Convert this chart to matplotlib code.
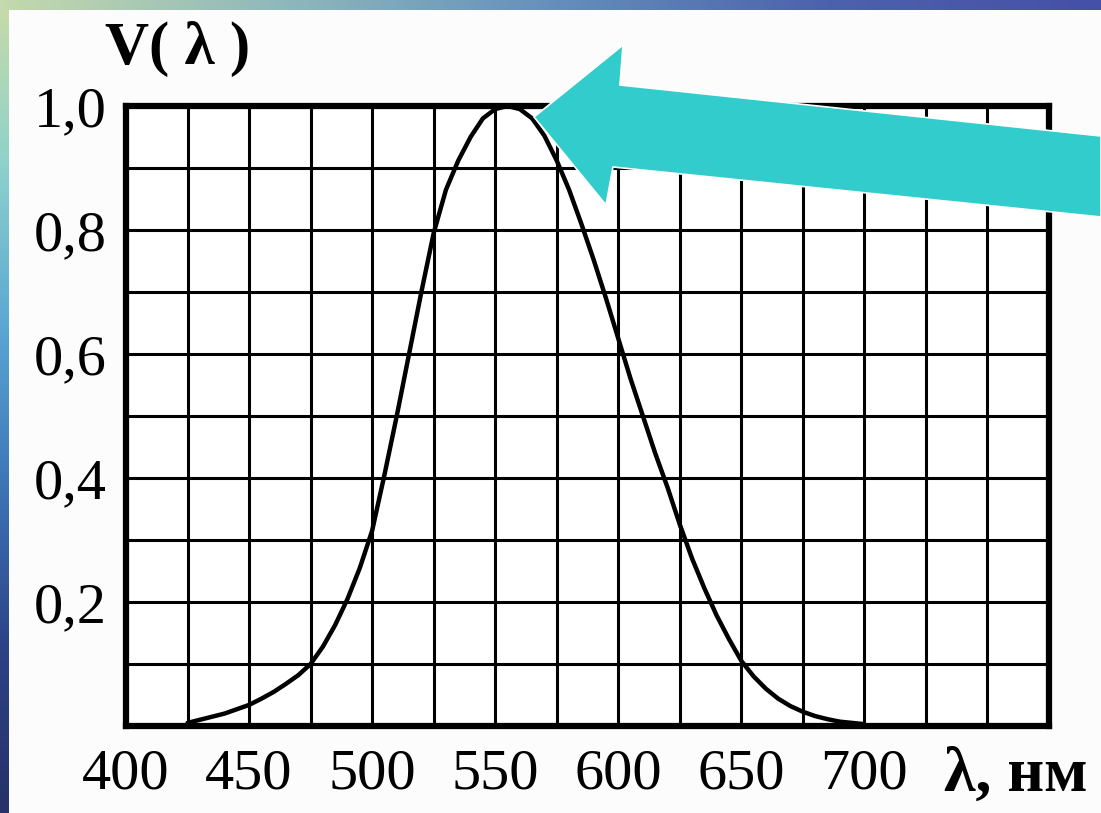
import numpy as np
from matplotlib import pyplot as plt
from matplotlib.colors import LinearSegmentedColormap
from matplotlib.patches import Polygon

# 衬线字体，带希腊字母和西里尔字母
plt.rcParams['font.family'] = ['Liberation Serif', 'DejaVu Serif']

# 波长 (нм) 和 V(λ) —— 从图上读出来的值
wavelength = [425, 430, 435, 440, 445, 450, 455, 460, 465, 470,
              475, 480, 485, 490, 495, 500, 505, 510, 515, 520,
              525, 530, 535, 540, 545, 550, 555, 560, 565, 570,
              575, 580, 585, 590, 595, 600, 605, 610, 615, 620,
              625, 630, 635, 640, 645, 650, 655, 660, 665, 670,
              675, 680, 685, 690, 695, 700]
v_lambda = [0.005, 0.010, 0.015, 0.020, 0.027, 0.034, 0.044, 0.055, 0.068, 0.082,
            0.100, 0.128, 0.163, 0.205, 0.255, 0.315, 0.405, 0.500, 0.600, 0.700,
            0.795, 0.865, 0.912, 0.950, 0.980, 0.995, 1.000, 0.995, 0.980, 0.952,
            0.912, 0.865, 0.810, 0.752, 0.690, 0.625, 0.560, 0.500, 0.440, 0.385,
            0.325, 0.270, 0.222, 0.178, 0.140, 0.105, 0.080, 0.060, 0.044, 0.032,
            0.023, 0.016, 0.011, 0.007, 0.005, 0.003]

# 刻度
x_ticks = [400, 450, 500, 550, 600, 650, 700]
x_ticklabels = ['400', '450', '500', '550', '600', '650', '700']
y_ticks = [0.2, 0.4, 0.6, 0.8, 1.0]
y_ticklabels = ['0,2', '0,4', '0,6', '0,8', '1,0']

W, H = 1101, 813
fig = plt.figure(figsize=(W / 100, H / 100), dpi=100)
fig.patch.set_facecolor('#fcfcfc')

# 左边和上边的渐变条
left_cmap = LinearSegmentedColormap.from_list(
    'left', ['#c9dba6', '#8fd2cc', '#5aa8d4', '#3d74b6', '#2c4286', '#263268'])
top_cmap = LinearSegmentedColormap.from_list(
    'top', ['#c4d9ac', '#90b9bc', '#6590bb', '#4d62ad', '#4650a6'])
ax_l = fig.add_axes([0, 0, 9 / W, 1])
ax_l.imshow(np.linspace(0, 1, 256).reshape(-1, 1), aspect='auto', cmap=left_cmap)
ax_l.axis('off')
ax_t = fig.add_axes([0, 1 - 10 / H, 1, 10 / H])
ax_t.imshow(np.linspace(0, 1, 256).reshape(1, -1), aspect='auto', cmap=top_cmap)
ax_t.axis('off')

# 主坐标系
ax = fig.add_axes([126 / W, 1 - 726 / H, 923 / W, 620 / H])
ax.set_facecolor('white')
ax.plot(wavelength, v_lambda, color='black', linewidth=3.2,
        solid_capstyle='round', solid_joinstyle='round', zorder=3)

ax.set_xlim(400, 775)
ax.set_ylim(0, 1)
ax.set_xticks(x_ticks)
ax.set_xticklabels(x_ticklabels, fontsize=42)
ax.set_xticks(np.arange(400, 776, 25), minor=True)
ax.set_yticks(y_ticks)
ax.set_yticklabels(y_ticklabels, fontsize=42)
ax.set_yticks(np.arange(0, 1.01, 0.1), minor=True)

ax.grid(True, which='both', color='black', linewidth=2.2)
ax.tick_params(which='both', length=0)
ax.tick_params(axis='x', pad=16)
ax.tick_params(axis='y', pad=14)
for s in ax.spines.values():
    s.set_linewidth(4.5)

# 坐标轴名称
ax.set_xlabel('λ, нм', fontsize=46, fontweight='bold', va='center')
ax.xaxis.set_label_coords(0.964, -0.08)
ax.set_ylabel('V( λ )', fontsize=44, fontweight='bold', rotation=0, va='center', ha='center')
ax.yaxis.set_label_coords(0.056, 1.092)

# 指向峰值的箭头
arrow_px = [(534, 117), (623, 45), (620, 85), (1101, 136),
            (1101, 217), (613, 167), (606, 205)]
arrow = Polygon([(x / W, 1 - y / H) for x, y in arrow_px], closed=True,
                transform=fig.transFigure, facecolor='#33cccc',
                edgecolor='white', linewidth=1.2, zorder=10)
fig.add_artist(arrow)

plt.savefig('out.png', dpi=100, facecolor=fig.get_facecolor())
